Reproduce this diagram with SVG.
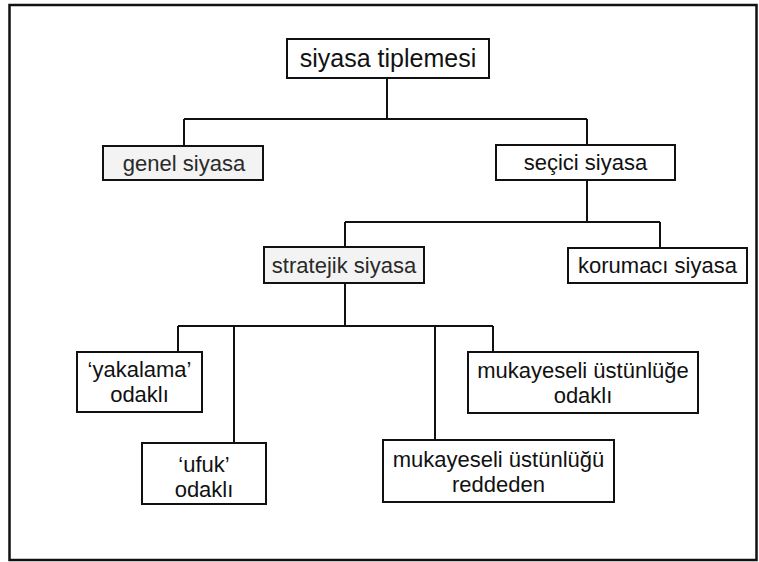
<svg xmlns="http://www.w3.org/2000/svg" width="759" height="562" viewBox="0 0 759 562">
<style>
.box{fill:#fff;stroke:#111;stroke-width:2}
.shaded{fill:#f3f3f3}
.t{font-family:"Liberation Sans",Arial,sans-serif;font-size:22px;fill:#111;text-anchor:middle}
.soft{fill:#2a2a2a}
.c{stroke:#111;stroke-width:2;fill:none}
</style>
<rect x="0" y="0" width="759" height="562" fill="#fff"/>
<rect x="9.5" y="5" width="747" height="555" fill="none" stroke="#111" stroke-width="2.5"/>
<g id="connectors">
<path class="c" d="M387,78V119M184,119H587M184,119V146M587,119V145"/>
<path class="c" d="M587,180V222M345,222H660M345,222V247M660,222V248"/>
<path class="c" d="M345,283V326M178,326H493M178,326V352M234,326V443M435,326V440M493,326V352"/>
</g>
<g id="n-tiplemesi"><rect class="box" x="287" y="39" width="202" height="39"/><text class="t" x="388" y="67" style="font-size:25px">siyasa tiplemesi</text></g>
<g id="n-genel"><rect class="box shaded" x="103" y="146" width="160" height="34"/><text class="t soft" x="184" y="171">genel siyasa</text></g>
<g id="n-secici"><rect class="box" x="496" y="145" width="179" height="35"/><text class="t" x="585.5" y="170">seçici siyasa</text></g>
<g id="n-stratejik"><rect class="box shaded" x="264" y="247" width="160" height="36"/><text class="t soft" x="344" y="273">stratejik siyasa</text></g>
<g id="n-korumaci"><rect class="box" x="568" y="248" width="179" height="35"/><text class="t" x="657.5" y="273">korumacı siyasa</text></g>
<g id="n-yakalama"><rect class="box" x="77" y="352" width="125" height="60"/><text class="t" x="139.5" y="377">‘yakalama’</text><text class="t" x="139.5" y="402">odaklı</text></g>
<g id="n-ufuk"><rect class="box" x="142" y="443" width="124" height="61"/><text class="t" x="204" y="472">‘ufuk’</text><text class="t" x="204" y="497">odaklı</text></g>
<g id="n-reddeden"><rect class="box" x="383" y="440" width="231" height="62"/><text class="t" x="498.5" y="467">mukayeseli üstünlüğü</text><text class="t" x="498.5" y="492">reddeden</text></g>
<g id="n-odakli"><rect class="box" x="468" y="352" width="230" height="61"/><text class="t" x="583" y="378">mukayeseli üstünlüğe</text><text class="t" x="583" y="403">odaklı</text></g>
</svg>
